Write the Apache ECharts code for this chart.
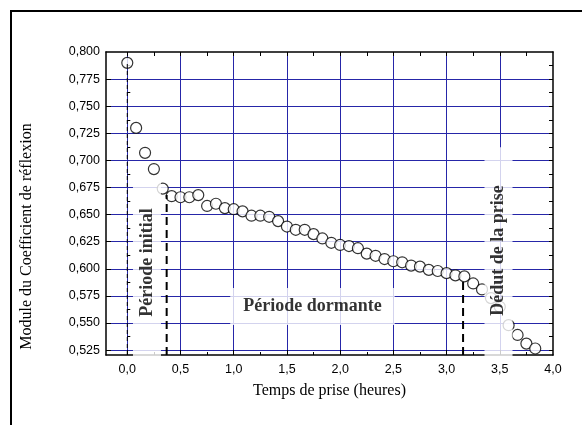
<!DOCTYPE html>
<html><head><meta charset="utf-8">
<script src="https://cdn.jsdelivr.net/npm/echarts@6/dist/echarts.min.js"></script>
<style>html,body{margin:0;padding:0;background:#fff}#c{width:582px;height:425px}</style>
</head><body><div id="c"></div>
<script>
// ---- data ----
const timeHours = [0.000,0.083,0.167,0.250,0.333,0.417,0.500,0.583,0.667,0.750,0.833,0.917,1.000,1.083,1.167,1.250,1.333,1.417,1.500,1.583,1.667,1.750,1.833,1.917,2.000,2.083,2.167,2.250,2.333,2.417,2.500,2.583,2.667,2.750,2.833,2.917,3.000,3.083,3.167,3.250,3.333,3.417,3.500,3.583,3.667,3.750,3.833];
const reflexion = [0.790,0.730,0.707,0.692,0.674,0.667,0.666,0.666,0.668,0.658,0.660,0.656,0.655,0.653,0.649,0.649,0.648,0.644,0.639,0.636,0.636,0.632,0.628,0.624,0.622,0.621,0.619,0.614,0.612,0.609,0.607,0.606,0.603,0.602,0.599,0.598,0.596,0.594,0.593,0.5865,0.581,0.573,0.565,0.548,0.539,0.531,0.5265];
const xTickLabels = [0,0.5,1,1.5,2,2.5,3,3.5,4];
const xGridTicks = [0,0.5,1,1.5,2,2.5,3,3.5];
const xMinorTicks = [0.25,0.75,1.25,1.75,2.25,2.75,3.25,3.75];
const xAllTicks = [0,0.25,0.5,0.75,1,1.25,1.5,1.75,2,2.25,2.5,2.75,3,3.25,3.5,3.75];
const yTickLabels = [0.525,0.55,0.575,0.6,0.625,0.65,0.675,0.7,0.725,0.75,0.775,0.8];
const yGridTicks = [0.525,0.55,0.575,0.6,0.625,0.65,0.675,0.7,0.725,0.75,0.775];
const yMinorTicks = [0.5375,0.5625,0.5875,0.6125,0.6375,0.6625,0.6875,0.7125,0.7375,0.7625,0.7875];
const yAllTicks = [0.525,0.5375,0.55,0.5625,0.575,0.5875,0.6,0.6125,0.625,0.6375,0.65,0.6625,0.675,0.6875,0.7,0.7125,0.725,0.7375,0.75,0.7625,0.775,0.7875];
const xMin = -0.2, xMax = 4.0, yMin = 0.5205, yMax = 0.8;
const dashX = [0, 0.37, 3.155];
const dashTop = [0.790, 0.668, 0.591];
const annoText = ['Période initial', 'Période dormante', 'Dédut de la prise'];
const annoX = [0.185, 1.740, 3.488];
const annoY = [0.6003, 0.5652, 0.6155];

const xName = 'Temps de prise (heures)';
const yName = 'Module du Coefficient de réflexion';

// ---- chart ----
const GRID = '#2626a8';
const sans = 'Liberation Sans';
const serif = 'Liberation Serif';
const chart = echarts.init(document.getElementById('c'), null, {renderer:'canvas'});

const fmtX = v => Number(v).toFixed(1).replace('.', ',');
const fmtY = v => Number(v).toFixed(3).replace('.', ',');
const axLine = {show:true, onZero:false, lineStyle:{color:'#000', width:1.5}};

function baseX(extra){ return Object.assign({type:'value', min:xMin, max:xMax, gridIndex:0}, extra); }
function baseY(extra){ return Object.assign({type:'value', min:yMin, max:yMax, gridIndex:0}, extra); }

const xAxis = [
  baseX({position:'bottom', axisLine:axLine,
    axisTick:{show:true, inside:true, length:5, customValues:xGridTicks, lineStyle:{color:'#000', width:1}},
    axisLabel:{show:true, customValues:xTickLabels, formatter:fmtX, margin:8, color:'#000', fontSize:12.5, fontFamily:sans},
    splitLine:{show:true, lineStyle:{color:GRID, width:1}},
    name:xName, nameLocation:'middle', nameGap:28,
    nameTextStyle:{fontFamily:serif, fontSize:16, color:'#000'}}),
  baseX({position:'bottom', axisLine:{show:false},
    axisTick:{show:true, inside:true, length:3, customValues:xMinorTicks, lineStyle:{color:'#000'}},
    axisLabel:{show:false}, splitLine:{show:false}}),
  baseX({position:'top', axisLine:axLine,
    axisTick:{show:true, inside:true, length:4, customValues:xAllTicks, lineStyle:{color:'#000'}},
    axisLabel:{show:false}, splitLine:{show:false}})
];
const yAxis = [
  baseY({position:'left', axisLine:axLine,
    axisTick:{show:true, inside:true, length:5, customValues:yGridTicks, lineStyle:{color:'#000'}},
    axisLabel:{show:true, customValues:yTickLabels, formatter:fmtY, margin:6, color:'#000', fontSize:12.5, fontFamily:sans},
    splitLine:{show:true, lineStyle:{color:GRID, width:1}},
    name:yName, nameLocation:'middle', nameGap:71,
    nameTextStyle:{fontFamily:serif, fontSize:16, color:'#000', padding:[0,66,0,0]}}),
  baseY({position:'left', axisLine:{show:false},
    axisTick:{show:true, inside:true, length:3, customValues:yMinorTicks, lineStyle:{color:'#000'}},
    axisLabel:{show:false}, splitLine:{show:false}}),
  baseY({position:'right', axisLine:axLine,
    axisTick:{show:true, inside:true, length:4, customValues:yAllTicks, lineStyle:{color:'#000'}},
    axisLabel:{show:false}, splitLine:{show:false}})
];

const series = [];
series.push({
  type:'scatter', xAxisIndex:0, yAxisIndex:0, z:2,
  data: timeHours.map((t,i)=>[t, reflexion[i]]),
  symbol:'circle', symbolSize:11,
  itemStyle:{color:'#fff', borderColor:'#000', borderWidth:1.2}
});
dashX.forEach((x,i)=>{
  series.push({
    type:'line', xAxisIndex:0, yAxisIndex:0, z:3, symbol:'none',
    data:[[x, yMin], [x, dashTop[i]]],
    lineStyle: i===0 ? {color:'#000', width:1, type:[4,3]} : {color:'#000', width:2, type:[8,5]}
  });
});
const annoLabels = [
  {rotate:90, padding:[4,28,4,40]},
  {rotate:0, padding:[9,13,8,13]},
  {rotate:90, padding:[4,38,4,41]}
];
series.push({
  type:'scatter', xAxisIndex:0, yAxisIndex:0, z:5, symbolSize:1,
  itemStyle:{color:'rgba(0,0,0,0)'},
  data: annoText.map((t,i)=>({
    value:[annoX[i], annoY[i]],
    label:Object.assign({show:true, position:'inside', formatter:t, color:'#000',
      fontFamily:serif, fontWeight:'bold', fontSize:18, lineHeight:20,
      backgroundColor:'#fff', align:'center', verticalAlign:'middle'}, annoLabels[i])
  }))
});

chart.setOption({
  animation:false,
  backgroundColor:'#fff',
  grid:{left:106, top:52, right:29, bottom:70, containLabel:false},
  xAxis, yAxis, series,
  graphic:[{type:'rect', silent:true, shape:{x:11, y:11, width:620, height:520},
    style:{fill:'none', stroke:'#000', lineWidth:2}}]
});
</script>
</body></html>
